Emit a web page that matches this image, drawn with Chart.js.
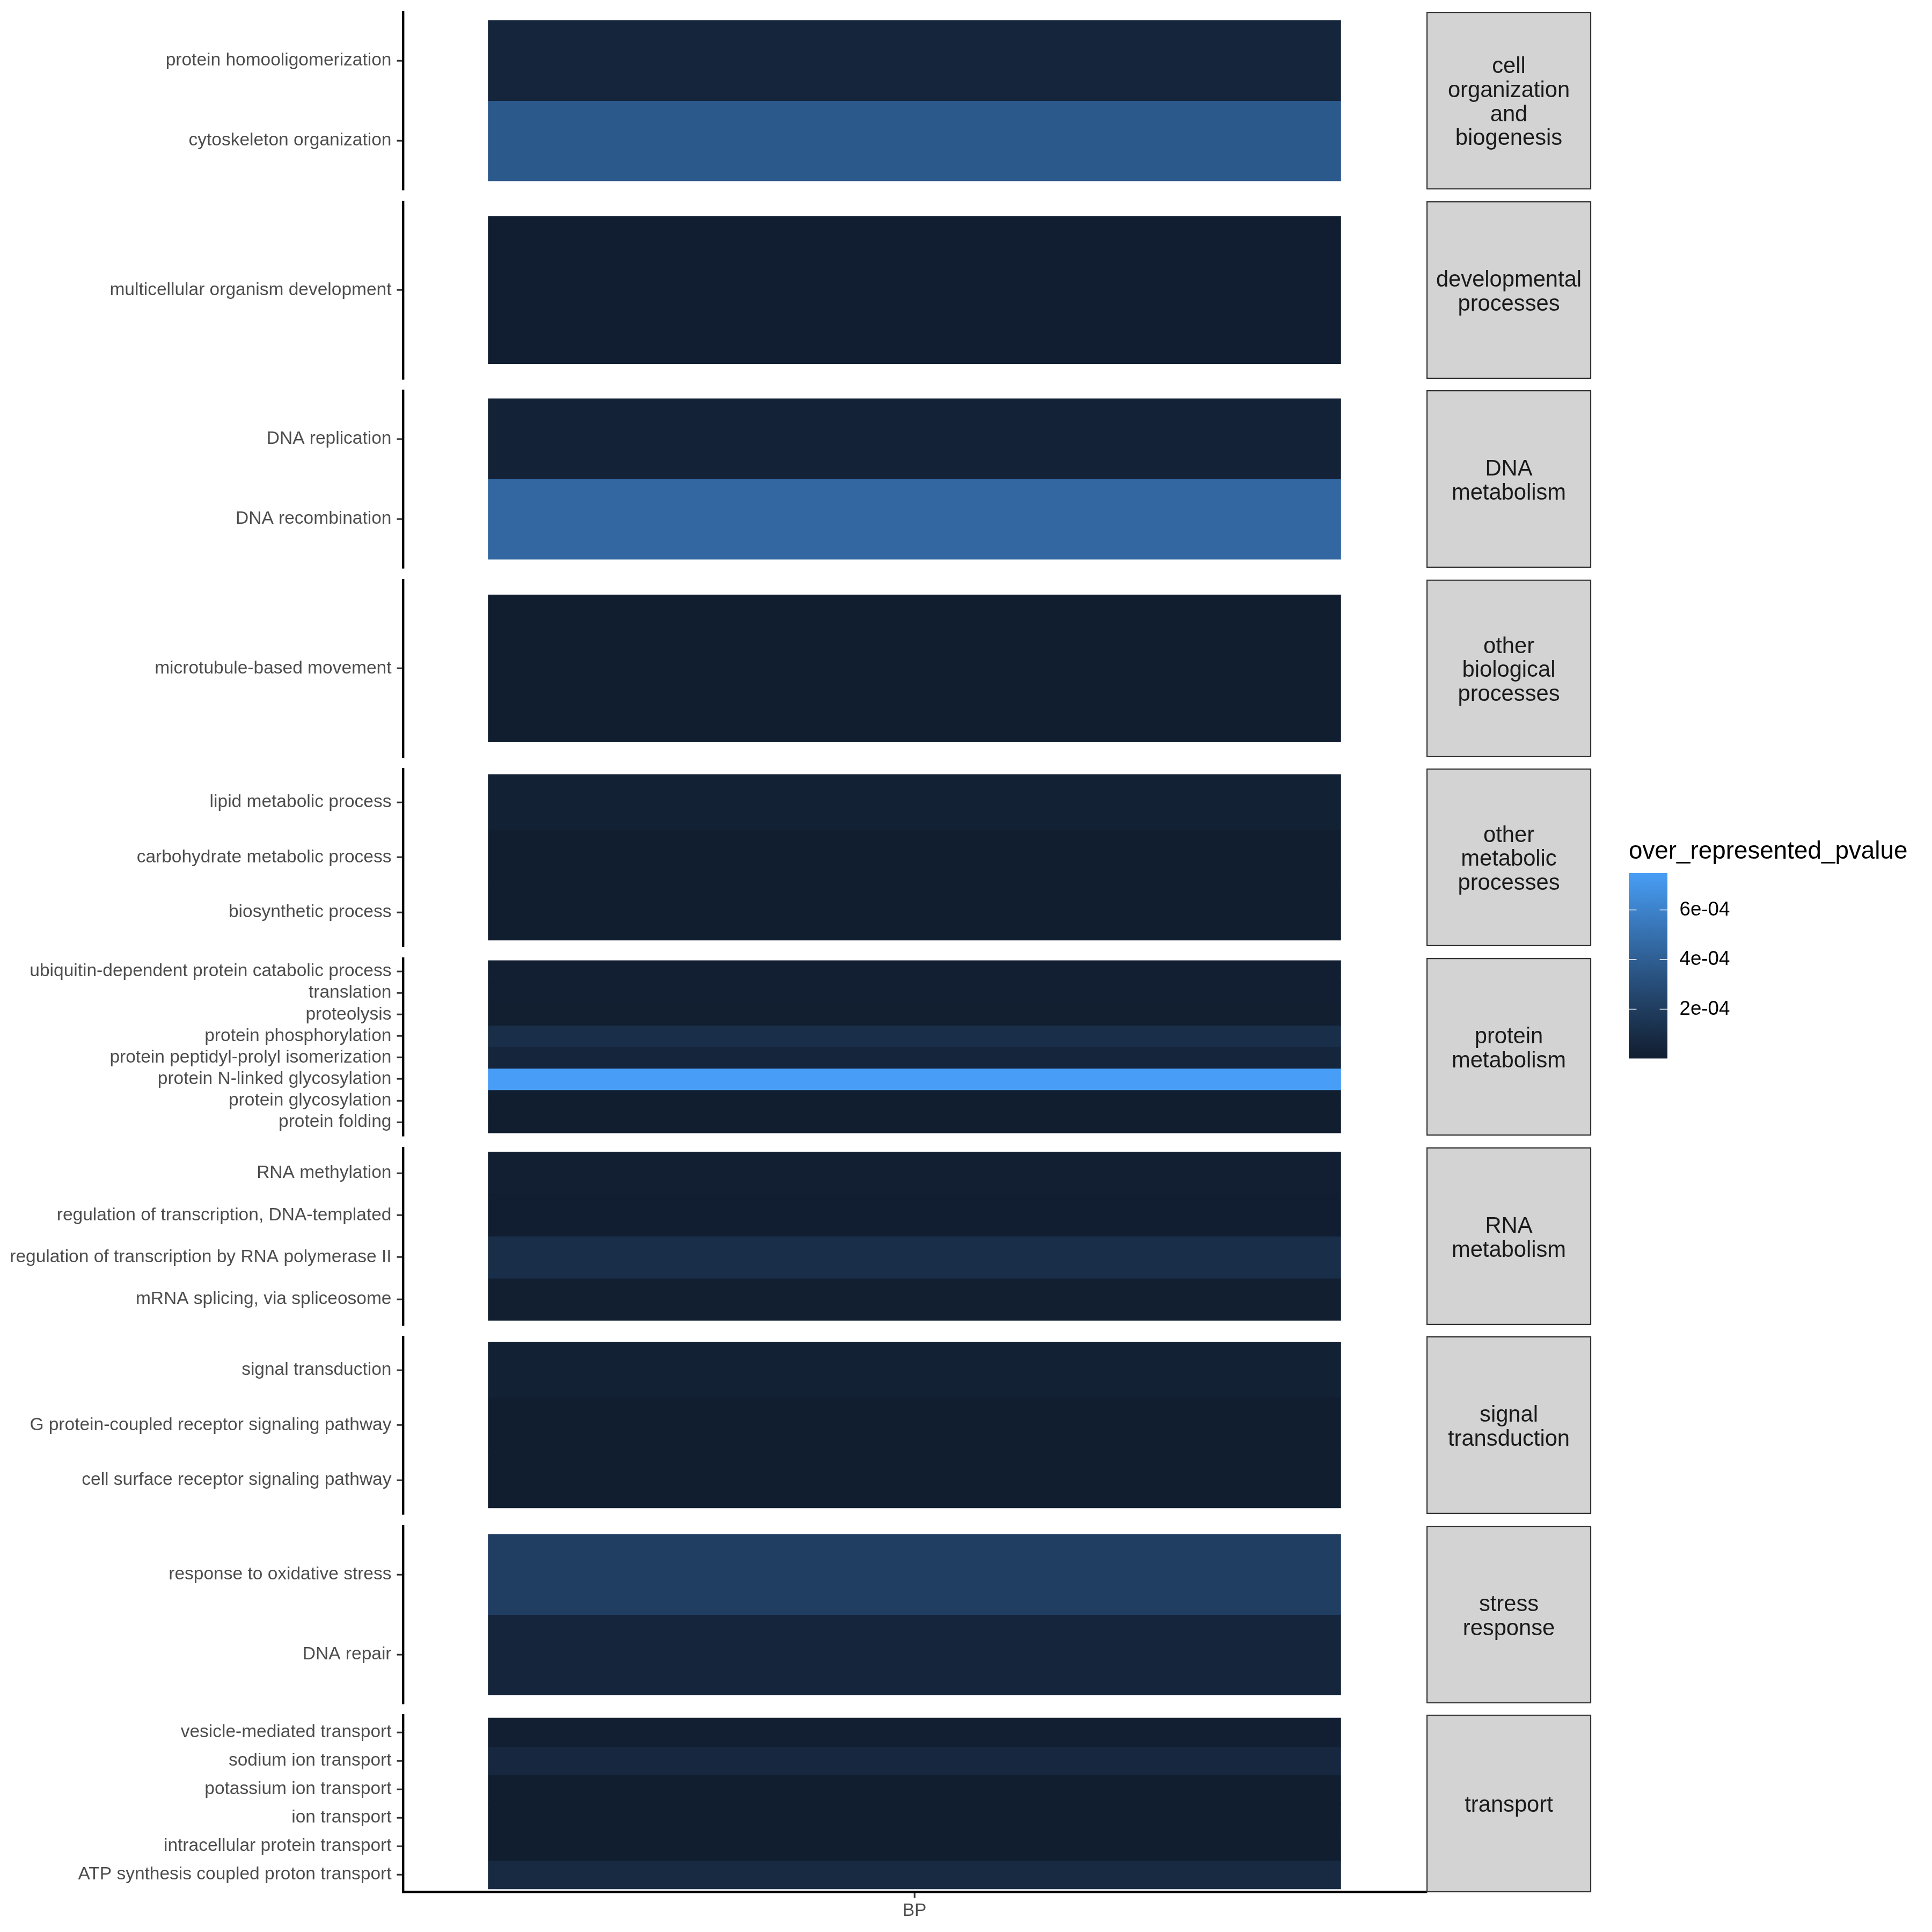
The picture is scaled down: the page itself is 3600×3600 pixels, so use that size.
<!DOCTYPE html>
<html>
<head>
<meta charset="utf-8">
<script src="https://cdn.jsdelivr.net/npm/chart.js@4.4.1/dist/chart.umd.min.js"></script>
<style>
html, body { margin: 0; padding: 0; background: #ffffff; }
#wrap { position: relative; width: 3600px; height: 3600px; background: #ffffff; overflow: hidden; }
#wrap canvas { position: absolute; }
</style>
</head>
<body>
<div id="wrap"></div>
<script>
// ---------------- DATA ----------------
const facetLabels = [
  "cell organization and biogenesis",
  "developmental processes",
  "DNA metabolism",
  "other biological processes",
  "other metabolic processes",
  "protein metabolism",
  "RNA metabolism",
  "signal transduction",
  "stress response",
  "transport"
];
const xCategories = ["BP"];

const cellOrgTerms = ["protein homooligomerization", "cytoskeleton organization"];
const cellOrgP = [5.0e-5, 3.7e-4];

const devTerms = ["multicellular organism development"];
const devP = [4e-6];

const dnaTerms = ["DNA replication", "DNA recombination"];
const dnaP = [3e-5, 4.5e-4];

const otherBioTerms = ["microtubule-based movement"];
const otherBioP = [1e-6];

const otherMetTerms = ["lipid metabolic process", "carbohydrate metabolic process", "biosynthetic process"];
const otherMetP = [2e-5, 3e-6, 1e-6];

const proteinTerms = [
  "ubiquitin-dependent protein catabolic process",
  "translation",
  "proteolysis",
  "protein phosphorylation",
  "protein peptidyl-prolyl isomerization",
  "protein N-linked glycosylation",
  "protein glycosylation",
  "protein folding"
];
const proteinP = [1e-5, 8e-6, 6e-6, 1.05e-4, 5.5e-5, 7.48e-4, 3e-6, 2e-6];

const rnaTerms = [
  "RNA methylation",
  "regulation of transcription, DNA-templated",
  "regulation of transcription by RNA polymerase II",
  "mRNA splicing, via spliceosome"
];
const rnaP = [8e-6, 4e-6, 1.1e-4, 6e-6];

const signalTerms = [
  "signal transduction",
  "G protein-coupled receptor signaling pathway",
  "cell surface receptor signaling pathway"
];
const signalP = [2e-5, 2e-6, 1e-6];

const stressTerms = ["response to oxidative stress", "DNA repair"];
const stressP = [2.1e-4, 5e-5];

const transportTerms = [
  "vesicle-mediated transport",
  "sodium ion transport",
  "potassium ion transport",
  "ion transport",
  "intracellular protein transport",
  "ATP synthesis coupled proton transport"
];
const transportP = [1e-5, 6.5e-5, 2e-6, 1e-6, 3e-6, 8e-5];

const legendTicks = [2e-4, 4e-4, 6e-4];
const legendTitle = "over_represented_pvalue";

// ---------------- BUILD ----------------
const facetTerms = [cellOrgTerms, devTerms, dnaTerms, otherBioTerms, otherMetTerms,
                    proteinTerms, rnaTerms, signalTerms, stressTerms, transportTerms];
const facetP = [cellOrgP, devP, dnaP, otherBioP, otherMetP,
                proteinP, rnaP, signalP, stressP, transportP];

const allP = facetP.flat();
const pMin = Math.min(...allP);
const pMax = Math.max(...allP);

// layout constants
const FONT = '"Liberation Sans", Arial, Helvetica, sans-serif';
const PANEL_LEFT = 751, PANEL_RIGHT = 2657;
const PANEL_TOP0 = 23, PANEL_H = 329, PANEL_STEP = 352.6;
const STRIP_LEFT = 2659, STRIP_RIGHT = 2964;
const CANVAS_W = 3000;
const PAD = 30;
const XAXIS_H = 90;
const LINE_W = 4.4;
const AXIS_FS = 33.5;

Chart.defaults.font.family = FONT;

// ---- colour scale (CIELAB interpolation, as ggplot) ----
const LOW = "#111E30", HIGH = "#489EF6";
function hexToRgb(h) { h = h.replace('#',''); return [0,2,4].map(i => parseInt(h.substr(i,2),16)); }
function s2l(c) { c /= 255; return c <= 0.04045 ? c/12.92 : Math.pow((c+0.055)/1.055, 2.4); }
function l2s(c) { const v = c <= 0.0031308 ? 12.92*c : 1.055*Math.pow(c, 1/2.4) - 0.055; return Math.round(Math.max(0, Math.min(1, v))*255); }
function rgbToLab(rgb) {
  const [r,g,b] = rgb.map(s2l);
  const X = (0.4124*r + 0.3576*g + 0.1805*b)/0.95047;
  const Y = (0.2126*r + 0.7152*g + 0.0722*b);
  const Z = (0.0193*r + 0.1192*g + 0.9505*b)/1.08883;
  const f = t => t > 0.008856 ? Math.cbrt(t) : 7.787*t + 16/116;
  const fx = f(X), fy = f(Y), fz = f(Z);
  return [116*fy - 16, 500*(fx - fy), 200*(fy - fz)];
}
function labToRgb(lab) {
  const [L,a,b] = lab;
  const fy = (L+16)/116, fx = fy + a/500, fz = fy - b/200;
  const fi = t => { const t3 = t*t*t; return t3 > 0.008856 ? t3 : (t - 16/116)/7.787; };
  const X = fi(fx)*0.95047, Y = fi(fy), Z = fi(fz)*1.08883;
  const r =  3.2406*X - 1.5372*Y - 0.4986*Z;
  const g = -0.9689*X + 1.8758*Y + 0.0415*Z;
  const bb = 0.0557*X - 0.2040*Y + 1.0570*Z;
  return [l2s(r), l2s(g), l2s(bb)];
}
const LAB_LOW = rgbToLab(hexToRgb(LOW)), LAB_HIGH = rgbToLab(hexToRgb(HIGH));
function colorAt(t) {
  t = Math.max(0, Math.min(1, t));
  const lab = LAB_LOW.map((v,i) => v + (LAB_HIGH[i] - v)*t);
  const [r,g,b] = labToRgb(lab);
  return `rgb(${r},${g},${b})`;
}
function fillColor(p) { return colorAt((p - pMin)/(pMax - pMin)); }

function wrapLabel(s, w) {
  const words = s.split(' '); const lines = []; let cur = '';
  for (const wd of words) {
    if (!cur) cur = wd;
    else if ((cur + ' ' + wd).length < w) cur += ' ' + wd;
    else { lines.push(cur); cur = wd; }
  }
  lines.push(cur);
  return lines;
}
function fmtSci(v) {
  const [m, e] = v.toExponential(0).split('e');
  const sign = e[0] === '-' ? '-' : '+';
  const digits = e.replace(/[+-]/, '').padStart(2, '0');
  return m + 'e' + sign + digits;
}

const wrap = document.getElementById('wrap');
function makeCanvas(left, top, w, h) {
  const c = document.createElement('canvas');
  c.width = w; c.height = h;
  c.style.left = left + 'px'; c.style.top = top + 'px';
  c.style.width = w + 'px'; c.style.height = h + 'px';
  wrap.appendChild(c);
  return c;
}

// strip plugin
const stripPlugin = {
  id: 'facetStrip',
  afterDraw(chart, args, opts) {
    const ctx = chart.ctx, ca = chart.chartArea;
    ctx.save();
    const x0 = STRIP_LEFT, w = STRIP_RIGHT - STRIP_LEFT;
    ctx.fillStyle = '#D3D3D3';
    ctx.fillRect(x0, ca.top, w, ca.bottom - ca.top);
    ctx.strokeStyle = '#333333';
    ctx.lineWidth = 2.2;
    ctx.strokeRect(x0, ca.top, w, ca.bottom - ca.top);
    const lines = wrapLabel(opts.label, 10);
    const fs = 41.7, lh = 44.6;
    ctx.font = `${fs}px ${FONT}`;
    ctx.fillStyle = '#1A1A1A';
    ctx.textAlign = 'center';
    ctx.textBaseline = 'alphabetic';
    const cx = x0 + w/2, cy = (ca.top + ca.bottom)/2;
    lines.forEach((ln, j) => {
      const y = cy + (j - (lines.length - 1)/2)*lh + 0.38*fs;
      ctx.fillText(ln, cx, y);
    });
    ctx.restore();
  }
};

// ---------------- PANELS ----------------
facetTerms.forEach((terms, k) => {
  const ps = facetP[k];
  const isLast = k === facetTerms.length - 1;
  const top = PANEL_TOP0 + k*PANEL_STEP;
  const h = PAD + PANEL_H + (isLast ? XAXIS_H : PAD);
  const cv = makeCanvas(0, top - PAD, CANVAS_W, h);
  const n = terms.length;
  new Chart(cv, {
    type: 'bar',
    data: {
      labels: xCategories,
      datasets: terms.map((t, i) => ({
        label: t,
        data: [[i + 0.5, i + 1.5]],
        backgroundColor: fillColor(ps[i]),
        borderWidth: 0,
        inflateAmount: 0.6,
        grouped: false,
        barPercentage: 1/1.2,
        categoryPercentage: 1
      }))
    },
    options: {
      responsive: false,
      animation: false,
      devicePixelRatio: 1,
      layout: { padding: { top: PAD, bottom: isLast ? 0 : PAD, left: 0, right: CANVAS_W - PANEL_RIGHT } },
      plugins: {
        legend: { display: false },
        tooltip: { enabled: false },
        facetStrip: { label: facetLabels[k] }
      },
      scales: {
        x: {
          type: 'category',
          display: isLast,
          offset: true,
          grid: { offset: false, drawOnChartArea: false, drawTicks: true, tickLength: 11.5, tickWidth: LINE_W*0.7, tickColor: '#333333', lineWidth: LINE_W },
          border: { display: true, color: '#000000', width: LINE_W },
          ticks: { font: { size: AXIS_FS, family: FONT }, color: '#4D4D4D', padding: 4, maxRotation: 0 },
          afterFit: s => { if (isLast) s.height = XAXIS_H; }
        },
        y: {
          type: 'linear',
          reverse: true,
          min: 0.4,
          max: n + 0.6,
          afterBuildTicks: s => { s.ticks = terms.map((_, i) => ({ value: i + 1 })); },
          ticks: {
            autoSkip: false,
            font: { size: AXIS_FS, family: FONT },
            color: '#4D4D4D',
            padding: 10,
            callback: v => terms[Math.round(v) - 1]
          },
          grid: { drawOnChartArea: false, drawTicks: true, tickLength: 11.5, tickWidth: LINE_W*0.7, tickColor: '#333333', lineWidth: LINE_W },
          border: { display: true, color: '#000000', width: LINE_W },
          afterFit: s => { s.width = PANEL_LEFT; }
        }
      }
    },
    plugins: [stripPlugin]
  });
});

// ---------------- COLOUR BAR LEGEND ----------------
const LEG_LEFT = 3035, LEG_BAR_W = 72, LEG_TOP = 1627, LEG_BAR_H = 360;
const LEG_PAD_TOP = 80, LEG_PAD_BOTTOM = 30;
const LEG_W = 3600 - LEG_LEFT;
const legCanvas = makeCanvas(LEG_LEFT, LEG_TOP - LEG_PAD_TOP, LEG_W, LEG_PAD_TOP + LEG_BAR_H + LEG_PAD_BOTTOM);

const legendDecor = {
  id: 'legendDecor',
  afterDatasetsDraw(chart) {
    const ctx = chart.ctx, ca = chart.chartArea, ys = chart.scales.y;
    ctx.save();
    ctx.strokeStyle = '#FFFFFF';
    ctx.lineWidth = 1.6;
    const tl = LEG_BAR_W/5;
    legendTicks.forEach(v => {
      const y = ys.getPixelForValue(v);
      ctx.beginPath();
      ctx.moveTo(ca.left, y); ctx.lineTo(ca.left + tl, y);
      ctx.moveTo(ca.right - tl, y); ctx.lineTo(ca.right, y);
      ctx.stroke();
    });
    ctx.restore();
  },
  afterDraw(chart) {
    const ctx = chart.ctx, ca = chart.chartArea;
    ctx.save();
    ctx.font = `45.8px ${FONT}`;
    ctx.fillStyle = '#000000';
    ctx.textAlign = 'left';
    ctx.textBaseline = 'alphabetic';
    ctx.fillText(legendTitle, ca.left, ca.top - 27);
    ctx.restore();
  }
};

new Chart(legCanvas, {
  type: 'bar',
  data: {
    labels: [''],
    datasets: [{
      label: legendTitle,
      data: [[pMin, pMax]],
      borderWidth: 0,
      barPercentage: 1,
      categoryPercentage: 1,
      backgroundColor: (c) => {
        const ca = c.chart.chartArea;
        if (!ca) return LOW;
        const g = c.chart.ctx.createLinearGradient(0, ca.bottom, 0, ca.top);
        const N = 40;
        for (let i = 0; i <= N; i++) g.addColorStop(i/N, colorAt(i/N));
        return g;
      }
    }]
  },
  options: {
    responsive: false,
    animation: false,
    devicePixelRatio: 1,
    layout: { padding: { top: LEG_PAD_TOP, bottom: LEG_PAD_BOTTOM, left: 0, right: 0 } },
    plugins: { legend: { display: false }, tooltip: { enabled: false } },
    scales: {
      x: { type: 'category', display: false, offset: true },
      y: {
        type: 'linear',
        position: 'right',
        min: pMin,
        max: pMax,
        afterBuildTicks: s => { s.ticks = legendTicks.map(v => ({ value: v })); },
        ticks: { font: { size: 36.7, family: FONT }, color: '#000000', padding: 22.5, callback: v => fmtSci(v) },
        grid: { display: false, drawTicks: false },
        border: { display: false },
        afterFit: s => { s.width = LEG_W - LEG_BAR_W; }
      }
    }
  },
  plugins: [legendDecor]
});
</script>
</body>
</html>
